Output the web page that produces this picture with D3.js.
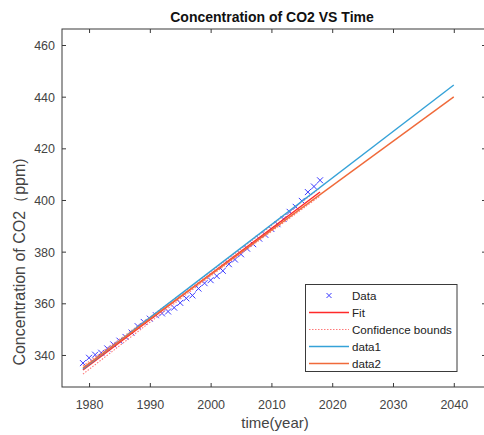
<!DOCTYPE html>
<html>
<head>
<meta charset="utf-8">
<script src="https://cdn.jsdelivr.net/npm/d3@7"></script>
<style>
  html, body { margin: 0; padding: 0; background: #fff; }
  svg { display: block; }
  text { font-family: "Liberation Sans", Arial, Helvetica, sans-serif; }
</style>
</head>
<body>
<svg id="chart" width="484" height="435"></svg>
<script>
// Annual mean CO2 concentration (ppm)
const years = [1979,1980,1981,1982,1983,1984,1985,1986,1987,1988,
               1989,1990,1991,1992,1993,1994,1995,1996,1997,1998,
               1999,2000,2001,2002,2003,2004,2005,2006,2007,2008,
               2009,2010,2011,2012,2013,2014,2015,2016,2017,2018];
const co2 = [336.85,338.91,340.11,340.86,342.53,344.07,345.54,346.97,348.68,351.16,
             352.78,354.05,355.39,356.09,356.83,358.33,360.17,361.93,363.05,365.70,
             367.80,368.96,370.57,372.59,375.15,376.95,378.98,381.15,382.90,385.02,
             386.50,388.76,390.63,392.65,395.40,397.34,399.65,403.06,405.22,407.62];

// Linear fit over the observed range
const fitYears = [1979, 2018];
const fitValues = [334.2, 403.1];

// Confidence bounds of the fit
const boundYears = [1979, 1988, 1998.5, 2009, 2018];
const boundUpper = [335.8, 351.2, 369.5, 388.3, 404.7];
const boundLower = [332.6, 349.0, 367.9, 386.1, 401.5];

// Extrapolated trends to 2040
const data1Years = [1979, 2040];
const data1Values = [334.6, 444.5];
const data2Years = [1979, 2040];
const data2Values = [335.0, 439.9];

const xTicks = [1980, 1990, 2000, 2010, 2020, 2030, 2040];
const yTicks = [340, 360, 380, 400, 420, 440, 460];

const legendLabels = ["Data", "Fit", "Confidence bounds", "data1", "data2"];

const svg = d3.select("#chart");

const padL = 62, padR = 486, padT = 29, padB = 387;
const x = d3.scaleLinear().domain([1975.55, 2045.3]).range([padL, padR]);
const y = d3.scaleLinear().domain([327.6, 466.2]).range([padB, padT]);

const axisColor = "#3a3a3a";
const labelColor = "#444";
const markerColor = "#3a3aff";
const fitColor = "#ff2a2a";
const boundColor = "#ff7a7a";
const data1Color = "#35a2d8";
const data2Color = "#f06a3a";

const plot = svg.append("g");

// data markers
const xs = 3;
plot.selectAll("path.pt")
  .data(years.map((yr, i) => [yr, co2[i]]))
  .join("path")
  .attr("class", "pt")
  .attr("d", d => {
    const cx = x(d[0]), cy = y(d[1]);
    return `M${cx - xs},${cy - xs}L${cx + xs},${cy + xs}M${cx - xs},${cy + xs}L${cx + xs},${cy - xs}`;
  })
  .attr("stroke", markerColor)
  .attr("stroke-width", 1)
  .attr("fill", "none");

const line = d3.line().x(d => x(d[0])).y(d => y(d[1]));
const lineSmooth = d3.line().x(d => x(d[0])).y(d => y(d[1])).curve(d3.curveNatural);

// fit
plot.append("path")
  .attr("d", line(fitYears.map((t, i) => [t, fitValues[i]])))
  .attr("stroke", fitColor).attr("stroke-width", 1.5).attr("fill", "none");

// confidence bounds
[boundUpper, boundLower].forEach(b => {
  plot.append("path")
    .attr("d", lineSmooth(boundYears.map((t, i) => [t, b[i]])))
    .attr("stroke", boundColor).attr("stroke-width", 1.1)
    .attr("stroke-dasharray", "1.5,1.5").attr("fill", "none");
});

// trend lines
plot.append("path")
  .attr("d", line(data1Years.map((t, i) => [t, data1Values[i]])))
  .attr("stroke", data1Color).attr("stroke-width", 1.4).attr("fill", "none");
plot.append("path")
  .attr("d", line(data2Years.map((t, i) => [t, data2Values[i]])))
  .attr("stroke", data2Color).attr("stroke-width", 1.4).attr("fill", "none");

// axes with inward ticks
const gx = svg.append("g").attr("transform", `translate(0,${padB})`)
  .call(d3.axisBottom(x).tickValues(xTicks).tickSizeInner(-4).tickSizeOuter(0).tickPadding(0).tickFormat(d3.format("d")));
gx.selectAll("text").attr("y", 22).attr("dy", null);

const gxt = svg.append("g").attr("transform", `translate(0,${padT})`)
  .call(d3.axisTop(x).tickValues(xTicks).tickSizeInner(-4).tickSizeOuter(0).tickFormat(""));

const gy = svg.append("g").attr("transform", `translate(${padL},0)`)
  .call(d3.axisLeft(y).tickValues(yTicks).tickSizeInner(-4).tickSizeOuter(0).tickPadding(0).tickFormat(d3.format("d")));
gy.selectAll("text").attr("x", -7).attr("dy", "0.36em");

const gyr = svg.append("g").attr("transform", `translate(${padR},0)`)
  .call(d3.axisRight(y).tickValues(yTicks).tickSizeInner(-4).tickSizeOuter(0).tickFormat(""));

[gx, gxt, gy, gyr].forEach(g => {
  g.select(".domain").remove();
  g.selectAll("line").attr("stroke", axisColor);
  g.selectAll("text").attr("fill", labelColor).style("font-size", "12.5px")
    .style("font-family", '"Liberation Sans", Arial, sans-serif');
});

// frame
svg.append("rect")
  .attr("x", padL).attr("y", padT)
  .attr("width", padR - padL).attr("height", padB - padT)
  .attr("fill", "none").attr("stroke", axisColor).attr("stroke-width", 1);

// title and axis labels
svg.append("text")
  .attr("x", (padL + 484) / 2 - 1).attr("y", 21.5)
  .attr("text-anchor", "middle")
  .style("font-size", "14px").style("font-weight", "bold").attr("fill", "#111")
  .text("Concentration of CO2 VS Time");

svg.append("text")
  .attr("x", 275).attr("y", 428)
  .attr("text-anchor", "middle")
  .style("font-size", "15px").attr("fill", labelColor)
  .text("time(year)");

svg.append("text")
  .attr("transform", "translate(25,262) rotate(-90)")
  .attr("text-anchor", "middle")
  .style("font-size", "16px").attr("fill", labelColor)
  .text("Concentration of CO2（ppm)");

// legend
const lg = svg.append("g");
lg.append("rect")
  .attr("x", 305.5).attr("y", 284.5).attr("width", 151.5).attr("height", 87)
  .attr("fill", "#fff").attr("stroke", axisColor).attr("stroke-width", 1);

const rowY = i => 295.5 + i * 17;
const sx0 = 309, sx1 = 349, tx = 352;
legendLabels.forEach((lab, i) => {
  lg.append("text")
    .attr("x", tx).attr("y", rowY(i)).attr("dy", "0.36em")
    .style("font-size", "11.6px").attr("fill", "#222")
    .text(lab);
});
// legend samples
lg.append("path")
  .attr("d", `M${329 - 2.5},${rowY(0) - 2.5}L${329 + 2.5},${rowY(0) + 2.5}M${329 - 2.5},${rowY(0) + 2.5}L${329 + 2.5},${rowY(0) - 2.5}`)
  .attr("stroke", markerColor).attr("stroke-width", 1).attr("fill", "none");
lg.append("line").attr("x1", sx0).attr("x2", sx1).attr("y1", rowY(1)).attr("y2", rowY(1))
  .attr("stroke", fitColor).attr("stroke-width", 1.4);
lg.append("line").attr("x1", sx0).attr("x2", sx1).attr("y1", rowY(2)).attr("y2", rowY(2))
  .attr("stroke", boundColor).attr("stroke-width", 1).attr("stroke-dasharray", "1.5,1.5");
lg.append("line").attr("x1", sx0).attr("x2", sx1).attr("y1", rowY(3)).attr("y2", rowY(3))
  .attr("stroke", data1Color).attr("stroke-width", 1.4);
lg.append("line").attr("x1", sx0).attr("x2", sx1).attr("y1", rowY(4)).attr("y2", rowY(4))
  .attr("stroke", data2Color).attr("stroke-width", 1.4);
</script>
</body>
</html>
